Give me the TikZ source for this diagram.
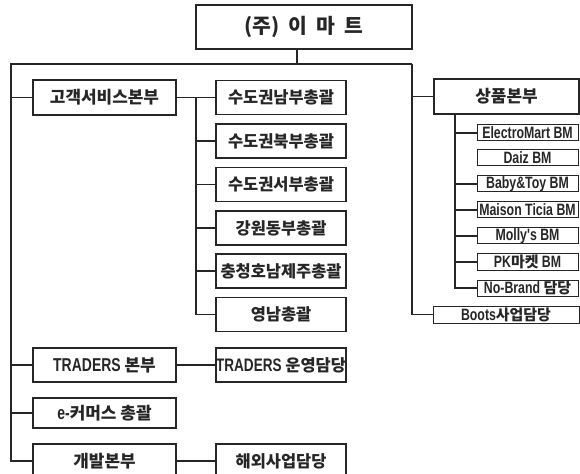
\documentclass[tikz,border=0pt]{standalone}
\usepackage{fontspec}
\setmainfont{Noto Sans CJK KR}
\newfontfamily\latfont{Liberation Sans}[FakeStretch=0.75, Scale=1.1]
\newcommand{\en}[1]{{\latfont #1}}
\usepackage{tikz}
\usetikzlibrary{calc}

\begin{document}
\begin{tikzpicture}[x=1bp, y=-1bp, line width=1.1bp, color=black!85,
  box/.style={draw, line width=1.2bp, inner sep=0pt, font=\fontsize{17}{20}\selectfont\bfseries},
  bigbox/.style={box, minimum width=143bp, minimum height=35bp},
  subbox/.style={box, minimum width=130bp, minimum height=34bp, font=\fontsize{16.5}{19}\selectfont\bfseries},
  bmbox/.style={box, line width=1bp, minimum width=101bp, minimum height=16bp, font=\fontsize{15}{16}\selectfont\bfseries}]
\clip (0,0) rectangle (580,474);  % 그림 크기 580 x 474
\node[box, minimum width=216bp, minimum height=44bp, font=\fontsize{20.5}{22}\selectfont\bfseries] (root) at (304,27) {(주)~ 이~ 마~ 트};
% 왼쪽 본부
\node[bigbox] (cs) at (104.5,97.5) {고객서비스본부};
\node[bigbox, minimum height=34bp] (tr) at (104.5,365) {\en{TRADERS} 본부};
\node[bigbox, minimum height=30bp] (ec) at (104.5,413) {\en{e-}커머스 총괄};
\node[bigbox, minimum height=34bp] (dev) at (104.5,461) {개발본부};
% 총괄
\node[subbox] (sd1) at (281,97.5) {수도권남부총괄};
\node[subbox] (sd2) at (281,141) {수도권북부총괄};
\node[subbox] (sd3) at (281,184.5) {수도권서부총괄};
\node[subbox] (sd4) at (281,228) {강원동부총괄};
\node[subbox] (sd5) at (281,271) {충청호남제주총괄};
\node[subbox] (sd6) at (281,314.5) {영남총괄};
\node[subbox] (trop) at (281,365) {\en{TRADERS} 운영담당};
\node[subbox] (ovs) at (281,461) {해외사업담당};
% 상품본부
\node[box, minimum width=145bp, minimum height=35bp] (prod) at (506.5,96.5) {상품본부};
\node[bmbox] (bm1) at (527.5,133) {\en{ElectroMart BM}};
\node[bmbox] (bm2) at (527.5,158) {\en{Daiz BM}};
\node[bmbox] (bm3) at (527.5,184) {\en{Baby\&Toy BM}};
\node[bmbox] (bm4) at (527.5,210) {\en{Maison Ticia BM}};
\node[bmbox] (bm5) at (527.5,236) {\en{Molly's BM}};
\node[bmbox] (bm6) at (527.5,262) {\en{PK}마켓 \en{BM}};
\node[bmbox] (bm7) at (527.5,288) {\en{No-Brand} 담당};
\node[bmbox, minimum width=146bp, minimum height=17bp] (boots) at (506,314.5) {\en{Boots}사업담당};
% 연결선
\coordinate (busL) at (11,64);
\coordinate (busR) at (412,64);
\draw ([xshift=-7bp]root.south) -- ([xshift=-7bp]root.south |- busL);
\draw (busR) -- (busL) |- (dev.west);
\draw (busR) |- (boots.west);
\foreach \n in {cs,tr,ec} \draw (busL |- \n.west) -- (\n.west);
\draw (busR |- prod.west) -- (prod.west);
\coordinate (csj) at (196,0);
\draw (cs.east) -- (sd1.west);
\draw (csj |- sd1.west) |- (sd6.west);
\foreach \n in {sd2,sd3,sd4,sd5} \draw (csj |- \n.west) -- (\n.west);
\draw (tr.east) -- (trop.west);
\draw (dev.east) -- (ovs.west);
\coordinate (pj) at (455,0);
\draw (pj |- prod.south) |- (bm7.west);
\foreach \n in {bm1,bm3,bm4,bm5,bm6} \draw (pj |- \n.west) -- (\n.west);
\end{tikzpicture}
\end{document}
